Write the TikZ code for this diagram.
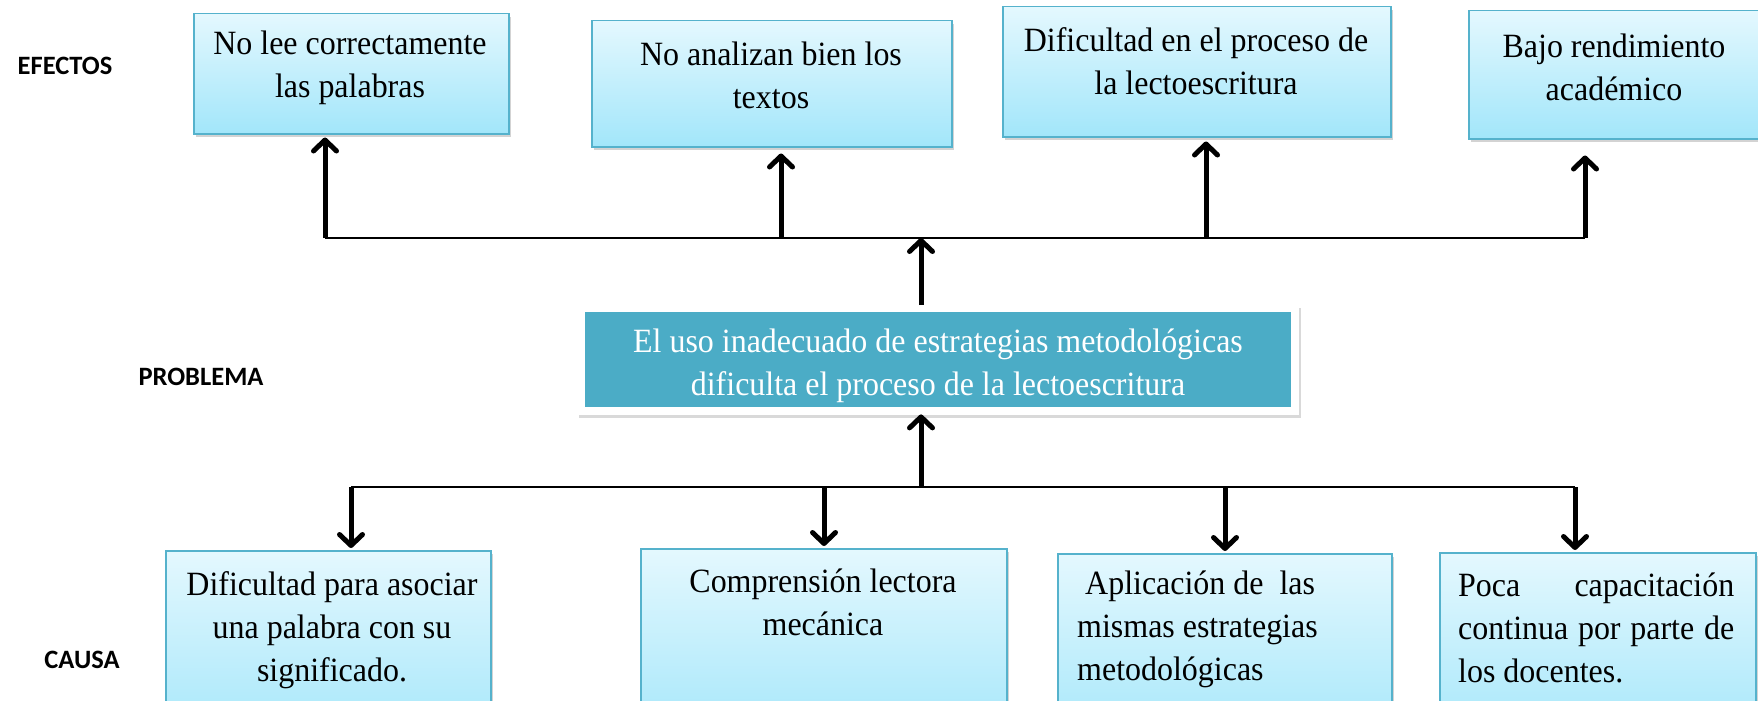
\documentclass[tikz,border=0pt]{standalone}
\usepackage{fontspec}
\setmainfont{Liberation Serif}[FakeStretch=0.94]
\newfontfamily\lblfont{Carlito}
\usetikzlibrary{arrows.meta,shadows,calc}
\definecolor{boxtop}{HTML}{E4F8FE}
\definecolor{boxbot}{HTML}{A2E6FA}
\definecolor{boxedge}{HTML}{55B2CC}
\definecolor{probfill}{HTML}{4BACC6}
\begin{document}
\begin{tikzpicture}[x=1pt,y=-1pt,
  cbox/.style={draw=boxedge, line width=1.5pt, top color=boxtop, bottom color=boxbot,
    anchor=north west, inner sep=0pt,
    drop shadow={shadow xshift=2pt,shadow yshift=-3pt,opacity=0.35}},
  btext/.style={font=\fontsize{34}{43}\selectfont, inner sep=0pt, align=center},
  lbl/.style={font=\lblfont\bfseries\fontsize{26.5}{30}\selectfont, inner sep=0pt},
  arr/.style={line width=5pt, -{Straight Barb[length=11pt,width=23pt,round]}},
  hline/.style={line width=2.8pt}]
\useasboundingbox (0,0) rectangle (1758,701);
\clip (0,0) rectangle (1758,701);

% labels
\node[lbl] (lef) at (65,66) {EFECTOS};
\node[lbl] (lpr) at (201,377) {PROBLEMA};
\node[lbl] (lca) at (82,660) {CAUSA};

% effect boxes
\node[cbox, minimum width=315, minimum height=120] (e1) at (193,13) {};
\node[cbox, minimum width=360, minimum height=126] (e2) at (591,20) {};
\node[cbox, minimum width=388, minimum height=130] (e3) at (1002,6) {};
\node[cbox, minimum width=300, minimum height=128] (e4) at (1468,10) {};
\node[btext] (e1t) at (350,68) {No lee correctamente\\las palabras};
\node[btext] (e2t) at (771,75) {No analizan bien los\\textos};
\node[btext] (e3t) at (1196,61) {Dificultad en el proceso de\\la lectoescritura};
\node[btext] (e4t) at (1614,67) {Bajo rendimiento\\académico};

% problem box
\node[fill=white, anchor=north west, minimum width=722, minimum height=110, inner sep=0pt,
  drop shadow={shadow xshift=2pt,shadow yshift=-3pt,opacity=0.3}] (prob) at (577,305) {};
\node[fill=probfill, anchor=north west, minimum width=706, minimum height=95, inner sep=0pt] (probin) at (585,312) {};
\node[btext, text=white] (probt) at (938,366) {El uso inadecuado de estrategias metodológicas\\dificulta el proceso de la lectoescritura};

% cause boxes
\node[cbox, minimum width=325, minimum height=200] (c1) at (165,550) {};
\node[cbox, minimum width=366, minimum height=200] (c2) at (640,548) {};
\node[cbox, minimum width=334, minimum height=200] (c3) at (1057,553) {};
\node[cbox, minimum width=316, minimum height=200] (c4) at (1439,552) {};
\node[btext] (c1t) at (332,630) {Dificultad para asociar\\una palabra con su\\significado.};
\node[btext] (c2t) at (823,602) {Comprensión lectora\\mecánica};
\node[btext, align=left, anchor=west] (c3t) at (1077,629) {\hspace*{8pt}Aplicación de\ \ las\\mismas estrategias\\metodológicas};
\node[btext, align=left, anchor=west] (c4t) at (1458,628) {\makebox[276pt][s]{Poca capacitación}\\\makebox[276pt][s]{continua por parte de}\\los docentes.};

% upper connectors
\coordinate (h1) at (325,238);
\coordinate (h2) at (781,238);
\coordinate (h3) at (1206,238);
\coordinate (h4) at (1585,238);
\coordinate (hc) at (921,238);
\draw[hline] (h1) -- (h4);
\draw[arr] (h1) -- ($(h1 |- e1.south)+(0,3)$);
\draw[arr] (h2) -- ($(h2 |- e2.south)+(0,6)$);
\draw[arr] (h3) -- ($(h3 |- e3.south)+(0,4)$);
\draw[arr] (h4) -- ($(h4 |- e4.south)+(0,16)$);
\draw[arr] (prob.north -| hc) -- (hc);

% lower connectors
\coordinate (l1) at (351,487);
\coordinate (l2) at (824,487);
\coordinate (l3) at (1225,487);
\coordinate (l4) at (1575,487);
\coordinate (lc) at (921,487);
\draw[hline] (l1) -- (l4);
\draw[arr] (lc) -- ($(prob.south -| lc)+(0,-1)$);
\draw[arr] (l1) -- ($(l1 |- c1.north)+(0,-2)$);
\draw[arr] (l2) -- ($(l2 |- c2.north)+(0,-2)$);
\draw[arr] (l3) -- ($(l3 |- c3.north)+(0,-2)$);
\draw[arr] (l4) -- ($(l4 |- c4.north)+(0,-2)$);
\end{tikzpicture}
\end{document}
